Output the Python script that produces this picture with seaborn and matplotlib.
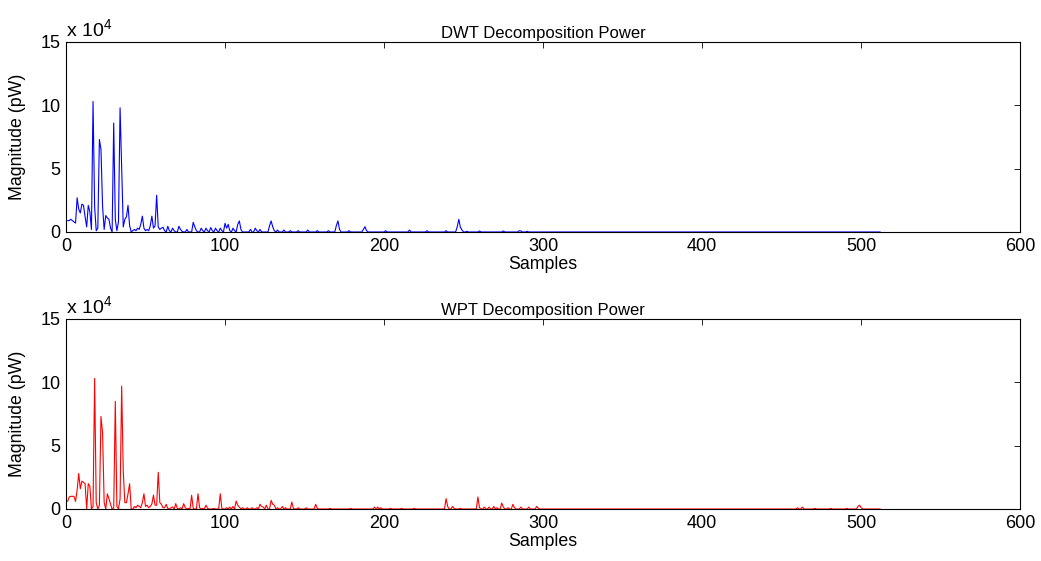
import numpy as np
import pandas as pd
import matplotlib
matplotlib.use("Agg")
import matplotlib.pyplot as plt
import seaborn as sns

N_SAMPLES = 512

# DWT power (units of 1e4 pW), samples 1..60
dwt_head = [0.9, 0.9, 1.0, 0.9, 0.8, 0.7, 2.7, 1.8, 1.5, 2.2,
            2.1, 1.2, 0.4, 2.1, 1.6, 0.2, 10.3, 2.0, 0.1, 0.3,
            7.3, 6.5, 2.0, 0.2, 1.3, 1.1, 1.0, 0.3, 0.0, 8.6,
            1.0, 0.1, 0.8, 9.8, 5.0, 0.4, 1.0, 1.2, 2.1, 0.5,
            0.0, 0.1, 0.2, 0.1, 0.3, 0.2, 0.6, 1.25, 0.3, 0.1,
            0.2, 0.1, 0.5, 1.25, 0.3, 0.5, 2.9, 0.4, 0.2, 0.3]
# DWT later peaks (sample index -> value)
dwt_peak_idx = [61, 62, 64, 65, 67, 68, 71, 72, 73, 76, 80, 81, 82, 85, 86, 88, 89, 91, 92,
                94, 95, 97, 98, 100, 101, 102, 103, 105, 106, 108, 109, 110, 116, 119, 120,
                122, 128, 129, 130, 131, 133, 137, 141, 146, 152, 158, 165, 170, 171, 172,
                178, 187, 188, 189, 201, 216, 227, 239, 246, 247, 248, 249, 252, 260, 275,
                285, 286, 290]
dwt_peak_val = [0.37, 0.1, 0.45, 0.1, 0.3, 0.1, 0.45, 0.2, 0.05, 0.2, 0.76, 0.4, 0.1, 0.3, 0.1,
                0.3, 0.1, 0.35, 0.1, 0.3, 0.1, 0.3, 0.1, 0.68, 0.3, 0.6, 0.1, 0.3, 0.1, 0.6,
                0.87, 0.2, 0.2, 0.3, 0.1, 0.2, 0.5, 0.87, 0.4, 0.1, 0.15, 0.15, 0.1, 0.1,
                0.15, 0.1, 0.1, 0.5, 0.87, 0.2, 0.1, 0.2, 0.42, 0.1, 0.1, 0.15, 0.1, 0.1,
                0.4, 1.0, 0.37, 0.15, 0.05, 0.08, 0.08, 0.1, 0.08, 0.05]

# WPT power (units of 1e4 pW), samples 1..60
wpt_head = [0.6, 0.95, 1.0, 1.0, 1.0, 0.6, 1.5, 2.8, 1.6, 2.2,
            2.1, 2.0, 0.0, 2.0, 1.8, 0.0, 0.2, 10.3, 0.5, 0.0,
            0.3, 7.3, 6.0, 0.5, 0.0, 1.2, 0.8, 0.4, 0.0, 0.1,
            8.5, 0.2, 0.0, 0.8, 9.7, 3.0, 0.5, 0.5, 1.2, 2.0,
            0.0, 0.0, 0.2, 0.1, 0.3, 0.2, 0.1, 0.5, 1.2, 0.2,
            0.3, 0.1, 0.2, 0.4, 1.1, 0.3, 0.3, 2.9, 0.5, 0.37]
wpt_peak_idx = [61, 62, 63, 64, 66, 67, 69, 70, 72, 74, 75, 77, 79, 80, 83, 84, 86, 88, 89,
                93, 97, 98, 101, 103, 105, 107, 108, 109, 111, 114, 117, 120, 122, 123, 124,
                126, 129, 130, 131, 133, 136, 138, 142, 143, 146, 151, 157, 158, 166, 179,
                194, 196, 198, 204, 211, 219, 239, 240, 243, 244, 248, 259, 260, 263, 266,
                269, 271, 274, 275, 278, 281, 282, 286, 291, 296, 297, 460, 463, 471, 481,
                491, 498, 499, 500]
wpt_peak_val = [0.1, 0.1, 0.37, 0.05, 0.1, 0.16, 0.42, 0.05, 0.1, 0.42, 0.1, 0.05, 1.08, 0.05,
                1.2, 0.1, 0.05, 0.3, 0.05, 0.05, 1.2, 0.05, 0.1, 0.15, 0.2, 0.63, 0.3, 0.15,
                0.1, 0.1, 0.1, 0.1, 0.37, 0.2, 0.15, 0.3, 0.68, 0.37, 0.3, 0.1, 0.2, 0.1,
                0.55, 0.05, 0.1, 0.1, 0.37, 0.05, 0.05, 0.05, 0.15, 0.15, 0.1, 0.05, 0.05,
                0.05, 0.82, 0.2, 0.2, 0.05, 0.05, 0.95, 0.1, 0.15, 0.15, 0.2, 0.1, 0.47,
                0.15, 0.1, 0.37, 0.1, 0.15, 0.15, 0.2, 0.05, 0.1, 0.15, 0.05, 0.05, 0.05,
                0.2, 0.3, 0.1]

x_ticks = [0, 100, 200, 300, 400, 500, 600]
y_ticks = [0, 5, 10, 15]
titles = ["DWT Decomposition Power", "WPT Decomposition Power"]
colors = ["#0000ff", "#ff0000"]


def build(head, idx, val):
    s = np.zeros(N_SAMPLES)
    s[:len(head)] = head
    for i, v in zip(idx, val):
        s[i - 1] = v
    return s * 1e4


samples = np.arange(1, N_SAMPLES + 1)
dwt = build(dwt_head, dwt_peak_idx, dwt_peak_val)
wpt = build(wpt_head, wpt_peak_idx, wpt_peak_val)

sns.set_theme(style="white")
plt.rcParams["font.family"] = ["Liberation Sans", "DejaVu Sans"]
plt.rcParams["mathtext.fontset"] = "custom"
plt.rcParams["mathtext.rm"] = "Liberation Sans"
plt.rcParams["text.color"] = "black"
plt.rcParams["axes.labelcolor"] = "black"

FS_TICK = 13
FS_LABEL = 12.75
FS_TITLE = 12
fig = plt.figure(figsize=(10.41, 5.61), dpi=100)
L, W = 0.0634, 0.9166
boxes = [[L, 0.5865, W, 0.3387], [L, 0.0927, W, 0.3387]]

for box, series, title, color in zip(boxes, [dwt, wpt], titles, colors):
    ax = fig.add_axes(box)
    df = pd.DataFrame({"Samples": samples, "Power": series})
    sns.lineplot(data=df, x="Samples", y="Power", ax=ax, color=color, linewidth=0.8)
    ax.set_xlim(0, 600)
    ax.set_ylim(0, 15e4)
    ax.set_xticks(x_ticks)
    ax.set_xticklabels([str(t) for t in x_ticks])
    ax.set_yticks([t * 1e4 for t in y_ticks])
    ax.set_yticklabels([str(t) for t in y_ticks])
    ax.tick_params(direction="in", top=True, right=True, length=4, width=0.6,
                   labelsize=FS_TICK, colors="black", pad=4)
    for sp in ax.spines.values():
        sp.set_color("black")
        sp.set_linewidth(0.8)
    ax.set_xlabel("Samples", fontsize=FS_LABEL, labelpad=1)
    ax.set_ylabel("Magnitude (pW)", fontsize=FS_LABEL, labelpad=10)
    ax.set_title(title, fontsize=FS_TITLE, pad=3)
    ax.text(0.0, 1.005, r"x 10$^{4}$", transform=ax.transAxes, fontsize=FS_TICK + 1,
            ha="left", va="bottom")

fig.savefig("out.png", dpi=100)
